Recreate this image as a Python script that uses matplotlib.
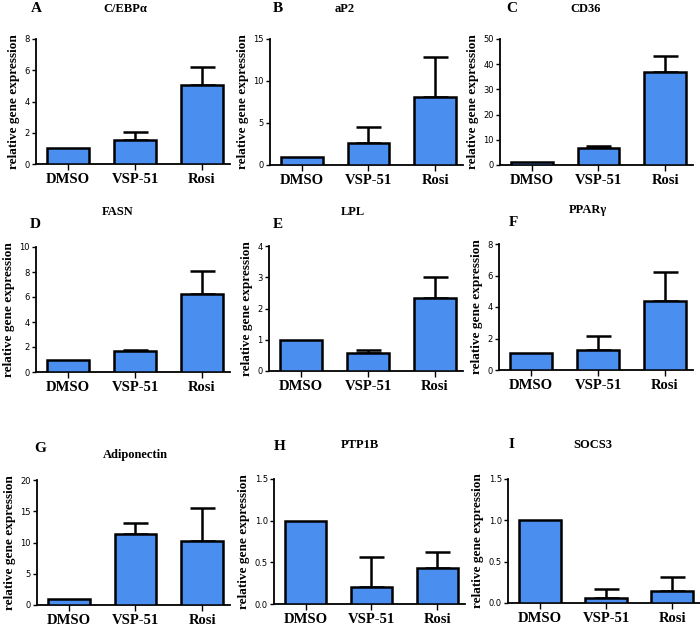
import matplotlib
matplotlib.use('Agg')
import matplotlib.pyplot as plt

# groups on the x axis
groups = ['DMSO', 'VSP-51', 'Rosi']

# panel letters and gene names
letters = ['A', 'B', 'C', 'D', 'E', 'F', 'G', 'H', 'I']
genes = ['C/EBPα', 'aP2', 'CD36', 'FASN', 'LPL', 'PPARγ', 'Adiponectin', 'PTP1B', 'SOCS3']

# mean values (DMSO, VSP-51, Rosi)
cebpa = [1.0, 1.52, 5.05]
ap2 = [1.0, 2.6, 8.1]
cd36 = [1.0, 6.7, 36.8]
fasn = [1.0, 1.65, 6.25]
lpl = [1.0, 0.57, 2.35]
pparg = [1.05, 1.28, 4.4]
adipoq = [1.0, 11.4, 10.2]
ptp1b = [1.0, 0.21, 0.43]
socs3 = [1.0, 0.06, 0.15]

# top of upper error bar (0 = none)
cebpa_err = [0, 2.05, 6.2]
ap2_err = [0, 4.5, 12.8]
cd36_err = [0, 7.5, 43.2]
fasn_err = [0, 1.8, 8.1]
lpl_err = [0, 0.68, 3.0]
pparg_err = [0, 2.17, 6.25]
adipoq_err = [0, 13.1, 15.6]
ptp1b_err = [0, 0.56, 0.62]
socs3_err = [0, 0.17, 0.32]

# y axis limits and ticks
ymax = [8, 15, 50, 10, 4, 8, 20, 1.5, 1.5]
ystep = [2, 5, 10, 2, 1, 2, 5, 0.5, 0.5]

means = [cebpa, ap2, cd36, fasn, lpl, pparg, adipoq, ptp1b, socs3]
errs = [cebpa_err, ap2_err, cd36_err, fasn_err, lpl_err, pparg_err, adipoq_err, ptp1b_err, socs3_err]

W, H = 700, 627
# axes boxes in pixels: x0, x1, ytop, ybottom
boxes = [(36, 230, 39, 164), (270, 463, 39, 165), (500, 693, 39, 165),
         (36, 230, 247, 372), (269, 463, 246, 371), (499, 693, 244, 370),
         (37, 230, 480, 605), (274, 465, 479, 604), (508, 700, 479, 603)]
# letter (x, y) and title (x, y) positions in pixels
letter_pos = [(36, 9), (278, 9), (512, 9), (35, 225), (278, 225), (513, 223),
              (40, 448), (280, 447), (511, 445)]
title_pos = [(125, 9), (345, 9), (586, 9), (118, 212), (353, 212), (588, 210),
             (135, 455), (360, 445), (593, 445)]

bar_color = '#4a8ff0'
serif = 'Liberation Serif'

fig = plt.figure(figsize=(7, 6.27), dpi=100)

for i in range(9):
    x0, x1, yt, yb = boxes[i]
    ax = fig.add_axes([x0 / W, 1 - yb / H, (x1 - x0) / W, (yb - yt) / H])
    pos = range(len(groups))
    ax.bar(pos, means[i], width=0.63, color=bar_color, edgecolor='black', linewidth=1.8, zorder=3)
    # only the upper half of each error bar is shown
    idx = [k for k in pos if errs[i][k] > 0]
    ax.errorbar(idx, [means[i][k] for k in idx],
                yerr=[[0] * len(idx), [errs[i][k] - means[i][k] for k in idx]], fmt='none',
                ecolor='black', elinewidth=1.8, capsize=9, capthick=1.8, zorder=2)
    ax.set_xlim(-0.48, 2.42)
    ax.set_ylim(0, ymax[i])
    n = int(round(ymax[i] / ystep[i]))
    ticks = [ystep[i] * k for k in range(n + 1)]
    ax.set_yticks(ticks)
    if ystep[i] < 1:
        ax.set_yticklabels(['%.1f' % t for t in ticks])
    ax.set_xticks(list(pos))
    ax.set_xticklabels(groups, fontfamily=serif, fontweight='bold', fontsize=10.5)
    for s in ['top', 'right']:
        ax.spines[s].set_visible(False)
    for s in ['left', 'bottom']:
        ax.spines[s].set_linewidth(1.3)
    ax.tick_params(axis='y', labelsize=6, length=3, width=1, pad=1.5)
    ax.tick_params(axis='x', length=4, width=1, pad=2.5)
    ax.set_ylabel('relative gene expression', fontfamily=serif, fontweight='bold',
                  fontsize=9.5, labelpad=3)
    fig.text(letter_pos[i][0] / W, 1 - letter_pos[i][1] / H, letters[i], fontfamily=serif,
             fontweight='bold', fontsize=11, ha='center', va='center')
    fig.text(title_pos[i][0] / W, 1 - title_pos[i][1] / H, genes[i], fontfamily=serif,
             fontweight='bold', fontsize=9, ha='center', va='center')

fig.savefig('out.png', dpi=100, facecolor='white')
